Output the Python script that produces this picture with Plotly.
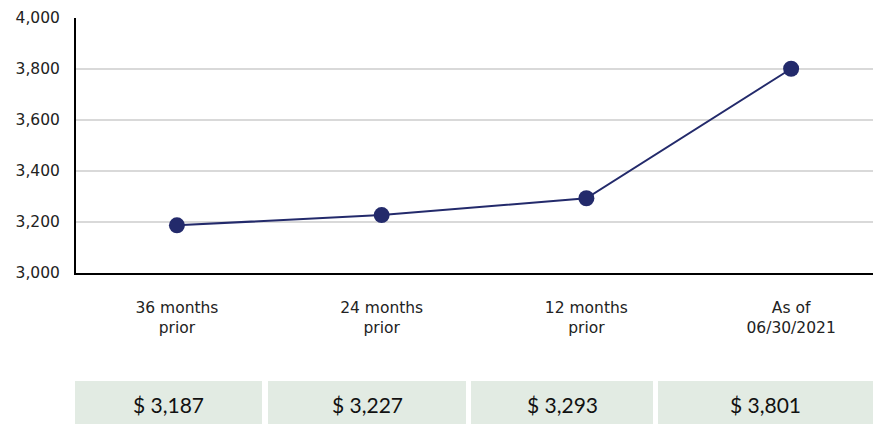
import plotly.graph_objects as go

categories = ["36 months<br>prior", "24 months<br>prior", "12 months<br>prior", "As of<br>06/30/2021"]
values = [3187, 3227, 3293, 3801]
value_labels = ["$ 3,187", "$ 3,227", "$ 3,293", "$ 3,801"]
y_ticks = [3000, 3200, 3400, 3600, 3800, 4000]
y_tick_labels = ["3,000", "3,200", "3,400", "3,600", "3,800", "4,000"]

W, H = 873, 424
L, R, T, B = 76, 0, 18, 151
pw, ph = W - L - R, H - T - B

x = list(range(len(categories)))

fig = go.Figure()
fig.add_trace(go.Scatter(
    x=x, y=values, mode="lines+markers",
    line=dict(color="#232a6b", width=2),
    marker=dict(color="#232a6b", size=16),
    hoverinfo="skip", showlegend=False, cliponaxis=False,
))

# value boxes below the axis
box_px = [(75, 262), (268, 466), (471, 653), (658, 873)]
box_top, box_bot = 381, 424
def px2paper_x(p):
    return (p - L) / pw
def px2paper_y(p):
    return (H - B - p) / ph

shapes = []
annotations = []
for (x0, x1), lab in zip(box_px, value_labels):
    shapes.append(dict(type="rect", xref="paper", yref="paper",
                       x0=px2paper_x(x0), x1=px2paper_x(x1),
                       y0=px2paper_y(box_bot), y1=px2paper_y(box_top),
                       fillcolor="#e2ebe3", line=dict(width=0), layer="below"))
    annotations.append(dict(xref="paper", yref="paper",
                            x=px2paper_x((x0 + x1) / 2), y=px2paper_y((box_top + box_bot) / 2 + 2),
                            text=lab, showarrow=False, xanchor="center", yanchor="middle",
                            font=dict(family="Lato, Liberation Sans", size=21, color="#111")))

fig.update_layout(
    width=W, height=H,
    margin=dict(l=L, r=R, t=T, b=B, autoexpand=False),
    paper_bgcolor="white", plot_bgcolor="white",
    font=dict(family="DejaVu Sans, Verdana", size=16, color="#222"),
    shapes=shapes, annotations=annotations,
    xaxis=dict(
        range=[-0.493, 3.40], tickvals=x, ticktext=categories,
        showgrid=False, zeroline=False, automargin=False,
        showline=True, linecolor="black", linewidth=2,
        ticks="", ticklabelstandoff=19,
        tickfont=dict(size=15.5, family="DejaVu Sans, Verdana", color="#222"),
    ),
    yaxis=dict(
        range=[3000, 4000], tickvals=y_ticks, ticktext=y_tick_labels,
        showgrid=True, gridcolor="#d9d9d9", gridwidth=2, automargin=False,
        zeroline=False, showline=True, linecolor="black", linewidth=2,
        ticks="", ticklabelstandoff=11,
        tickfont=dict(size=15.5, family="DejaVu Sans, Verdana", color="#222"),
    ),
)

fig.write_html("out.html", config={"displayModeBar": False},
               post_script="document.body.style.margin='0';document.body.style.padding='0';"
                           "document.body.style.overflow='hidden';"
                           "document.documentElement.style.overflow='hidden';")
